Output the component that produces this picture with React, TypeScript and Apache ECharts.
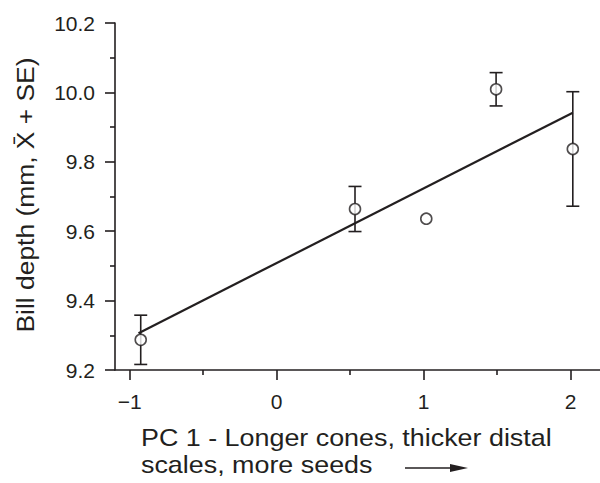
import React, { useEffect, useRef } from "react";
import * as echarts from "echarts";

const pcValues = [-0.925, 0.533, 1.018, 1.493, 2.015];
const billMeans = [9.287, 9.664, 9.636, 10.009, 9.837];
const billSE = [0.071, 0.065, 0, 0.048, 0.165];
const fitX = [-0.94, 2.015];
const fitY = [9.306, 9.9415];
const xMajorTicks = [-1, 0, 1, 2];
const xMinorTicks = [-0.5, 0.5, 1.5];

const INK = "#231f20";
const FONT = "'Liberation Sans', Arial, Helvetica, sans-serif";

export default function App() {
  const ref = useRef<HTMLDivElement>(null);
  useEffect(() => {
    document.body.style.margin = "0";
    if (!ref.current) return;
    const chart = echarts.init(ref.current, undefined, { renderer: "svg" });
    const points = pcValues.map((x, i) => [x, billMeans[i], billSE[i]]);
    const option: any = {
      animation: false,
      backgroundColor: "#fff",
      textStyle: { fontFamily: FONT },
      grid: { left: 115, top: 23, right: 0, bottom: 113, containLabel: false },
      xAxis: [
        {
          type: "value",
          min: -1.1,
          max: 2.2,
          axisLine: { show: true, onZero: false, lineStyle: { color: INK, width: 1.6 } },
          axisTick: { show: true, length: 10, customValues: xMajorTicks, lineStyle: { color: INK, width: 1.6 } },
          axisLabel: {
            show: true,
            customValues: xMajorTicks,
            margin: 21,
            fontSize: 21,
            color: INK,
            fontFamily: FONT,
            formatter: (v: number) => (v < 0 ? "\u2212" + Math.abs(v) : String(v)),
          },
          splitLine: { show: false },
        },
        {
          type: "value",
          min: -1.1,
          max: 2.2,
          position: "bottom",
          axisLine: { show: false, onZero: false },
          axisTick: { show: true, length: 5, customValues: xMinorTicks, lineStyle: { color: INK, width: 1.6 } },
          axisLabel: { show: false },
          splitLine: { show: false },
        },
      ],
      yAxis: {
        type: "value",
        min: 9.2,
        max: 10.2,
        interval: 0.2,
        axisLine: { show: true, onZero: false, lineStyle: { color: INK, width: 1.6 } },
        axisTick: { show: true, length: 10, lineStyle: { color: INK, width: 1.6 } },
        minorTick: { show: true, splitNumber: 2, length: 5, lineStyle: { color: INK, width: 1.6 } },
        axisLabel: {
          margin: 20,
          fontSize: 21,
          color: INK,
          fontFamily: FONT,
          formatter: (v: number) => v.toFixed(1),
        },
        splitLine: { show: false },
      },
      series: [
        {
          type: "line",
          data: fitX.map((x, i) => [x, fitY[i]]),
          showSymbol: false,
          symbol: "none",
          lineStyle: { color: INK, width: 2.2 },
          z: 2,
        },
        {
          type: "custom",
          data: points,
          z: 3,
          renderItem: (params: any, api: any) => {
            const x = api.value(0);
            const y = api.value(1);
            const s = api.value(2);
            if (!s) return { type: "group", children: [] };
            const top = api.coord([x, y + s]);
            const bot = api.coord([x, y - s]);
            const hw = 6.5;
            const st = { stroke: INK, lineWidth: 1.6 };
            return {
              type: "group",
              children: [
                { type: "line", shape: { x1: top[0], y1: top[1], x2: bot[0], y2: bot[1] }, style: st },
                { type: "line", shape: { x1: top[0] - hw, y1: top[1], x2: top[0] + hw, y2: top[1] }, style: st },
                { type: "line", shape: { x1: bot[0] - hw, y1: bot[1], x2: bot[0] + hw, y2: bot[1] }, style: st },
              ],
            };
          },
        },
        {
          type: "scatter",
          data: points.map((p) => [p[0], p[1]]),
          symbol: "circle",
          symbolSize: 11,
          itemStyle: { color: "#fff", borderColor: INK, borderWidth: 1.6 },
          z: 4,
        },
      ],
      graphic: [
        {
          type: "text",
          x: 25,
          y: 195,
          rotation: Math.PI / 2,
          scaleX: 1.1,
          style: {
            text: "Bill depth (mm, X\u0304 + SE)",
            fontSize: 24,
            fontFamily: FONT,
            fill: INK,
            align: "center",
            verticalAlign: "middle",
          },
        },
        {
          type: "text",
          x: 141,
          y: 438,
          scaleX: 1.12,
          style: {
            text: "PC 1 - Longer cones, thicker distal",
            fontSize: 24,
            fontFamily: FONT,
            fill: INK,
            align: "left",
            verticalAlign: "middle",
          },
        },
        {
          type: "text",
          x: 141,
          y: 465,
          scaleX: 1.12,
          style: {
            text: "scales, more seeds",
            fontSize: 24,
            fontFamily: FONT,
            fill: INK,
            align: "left",
            verticalAlign: "middle",
          },
        },
        {
          type: "line",
          shape: { x1: 405, y1: 468, x2: 452, y2: 468 },
          style: { stroke: INK, lineWidth: 1.6 },
        },
        {
          type: "polygon",
          shape: { points: [[450, 464], [468, 468], [450, 472]] },
          style: { fill: INK },
        },
      ],
    };
    chart.setOption(option);
    return () => chart.dispose();
  }, []);
  return <div ref={ref} style={{ width: 600, height: 483 }} />;
}
